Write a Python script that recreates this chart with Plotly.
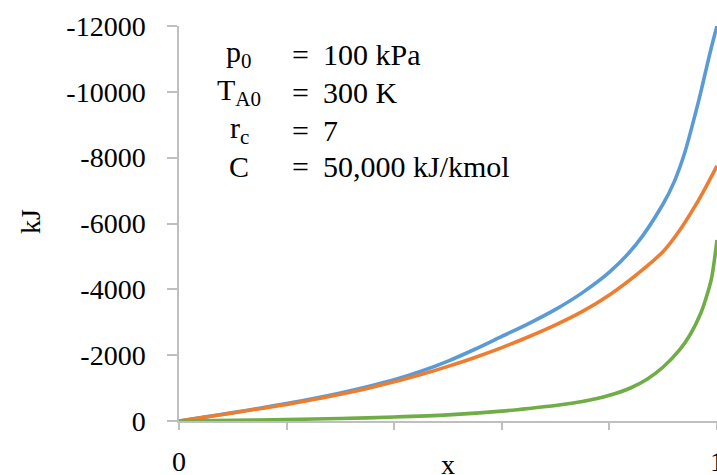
import plotly.graph_objects as go

# ---- data ----
x_blue = [0, 0.05, 0.1, 0.15, 0.2, 0.25, 0.3, 0.35, 0.4, 0.45, 0.5, 0.55, 0.6, 0.65, 0.7,
          0.75, 0.8, 0.85, 0.9, 0.92, 0.94, 0.96, 0.97, 0.98, 0.99, 1.0]
y_blue = [0, -125, -255, -390, -530, -680, -850, -1040, -1250, -1510, -1820, -2180, -2570,
          -2960, -3390, -3900, -4520, -5370, -6600, -7250, -8150, -9350, -10000, -10700,
          -11380, -12000]

x_orange = [0, 0.05, 0.1, 0.15, 0.2, 0.25, 0.3, 0.35, 0.4, 0.45, 0.5, 0.55, 0.6, 0.65, 0.7,
            0.75, 0.8, 0.85, 0.9, 0.93, 0.96, 0.98, 1.0]
y_orange = [0, -120, -245, -375, -500, -650, -810, -990, -1190, -1410, -1660, -1930, -2230,
            -2560, -2920, -3330, -3830, -4440, -5150, -5780, -6550, -7130, -7750]

x_green = [0, 0.1, 0.2, 0.3, 0.4, 0.5, 0.6, 0.65, 0.7, 0.75, 0.8, 0.84, 0.87, 0.9, 0.93,
           0.95, 0.97, 0.98, 0.99, 1.0]
y_green = [0, -20, -45, -75, -120, -185, -300, -380, -470, -590, -780, -1010, -1270, -1640,
           -2150, -2620, -3280, -3750, -4350, -5500]

x_tick_vals = [0, 1.0]
x_tick_text = ["0", "1"]
x_minor_vals = [0.2, 0.4, 0.6, 0.8]
y_tick_vals = [0, -2000, -4000, -6000, -8000, -10000, -12000]
y_tick_text = ["0", "-2000", "-4000", "-6000", "-8000", "-10000", "-12000"]

param_symbols = ["p<sub>0</sub>", "T<sub>A0</sub>", "r<sub>c</sub>", "C"]
param_values = ["100 kPa", "300 K", "7", "50,000 kJ/kmol"]

FONT = "Liberation Serif, serif"
AXIS_COLOR = "#BFBFBF"
LINE_W = 3.6

fig = go.Figure()
fig.add_trace(go.Scatter(x=x_blue, y=y_blue, mode="lines",
                         line=dict(color="#5B9BD5", width=LINE_W, shape="spline", smoothing=0.8), showlegend=False))
fig.add_trace(go.Scatter(x=x_orange, y=y_orange, mode="lines",
                         line=dict(color="#ED7D31", width=LINE_W, shape="spline", smoothing=0.8), showlegend=False))
fig.add_trace(go.Scatter(x=x_green, y=y_green, mode="lines",
                         line=dict(color="#70AD47", width=LINE_W, shape="spline", smoothing=0.8), showlegend=False))

# body margin is removed by the post script, so figure pixels == window pixels
W, H = 717, 475
L, R, T, B = 179, 0, 26, 475 - 421
pw, ph = W - L - R, H - T - B


def px(xw):
    return (xw - L) / pw


def py(yw):
    return (H - B - yw) / ph


ann = []
row_y = [54, 92, 130, 166]
for s, v, yy in zip(param_symbols, param_values, row_y):
    ann.append(dict(x=px(239), y=py(yy), xref="paper", yref="paper", text=s, showarrow=False,
                    xanchor="center", yanchor="middle", font=dict(family=FONT, size=30, color="black")))
    ann.append(dict(x=px(300), y=py(yy), xref="paper", yref="paper", text="=", showarrow=False,
                    xanchor="center", yanchor="middle", font=dict(family=FONT, size=30, color="black")))
    ann.append(dict(x=px(321), y=py(yy), xref="paper", yref="paper", text=v, showarrow=False,
                    xanchor="left", yanchor="middle", font=dict(family=FONT, size=30, color="black")))

ann.append(dict(x=px(448), y=py(465), xref="paper", yref="paper", text="x", showarrow=False,
                xanchor="center", yanchor="middle", font=dict(family=FONT, size=28, color="black")))
ann.append(dict(x=px(30), y=py(222), xref="paper", yref="paper", text="kJ", showarrow=False,
                textangle=-90, xanchor="center", yanchor="middle", font=dict(family=FONT, size=28, color="black")))

fig.update_layout(
    width=W, height=H,
    margin=dict(l=L, r=R, t=T, b=B, autoexpand=False),
    paper_bgcolor="white", plot_bgcolor="white",
    font=dict(family=FONT, size=28, color="black"),
    annotations=ann,
    xaxis=dict(range=[0, 1], tickvals=x_tick_vals, ticktext=x_tick_text, showgrid=False,
               zeroline=False, showline=True, linecolor=AXIS_COLOR, linewidth=1.5,
               ticks="outside", ticklen=7, tickcolor=AXIS_COLOR, tickwidth=1.5,
               minor=dict(tickvals=x_minor_vals, ticks="outside", ticklen=7,
                          tickcolor=AXIS_COLOR, tickwidth=1.5, showgrid=False),
               automargin=False, ticklabeloverflow="allow",
               ticklabelstandoff=8, tickfont=dict(family=FONT, size=28, color="black")),
    yaxis=dict(range=[0, -12000], tickvals=y_tick_vals, ticktext=y_tick_text, showgrid=False,
               zeroline=False, showline=True, linecolor=AXIS_COLOR, linewidth=1.5,
               ticks="outside", ticklen=10, tickcolor=AXIS_COLOR, tickwidth=1.5,
               automargin=False,
               ticklabelstandoff=16, tickfont=dict(family=FONT, size=28, color="black")),
)

fig.write_html("out.html", config={"displayModeBar": False},
               post_script="document.body.style.margin='0';document.body.style.overflow='hidden';")
